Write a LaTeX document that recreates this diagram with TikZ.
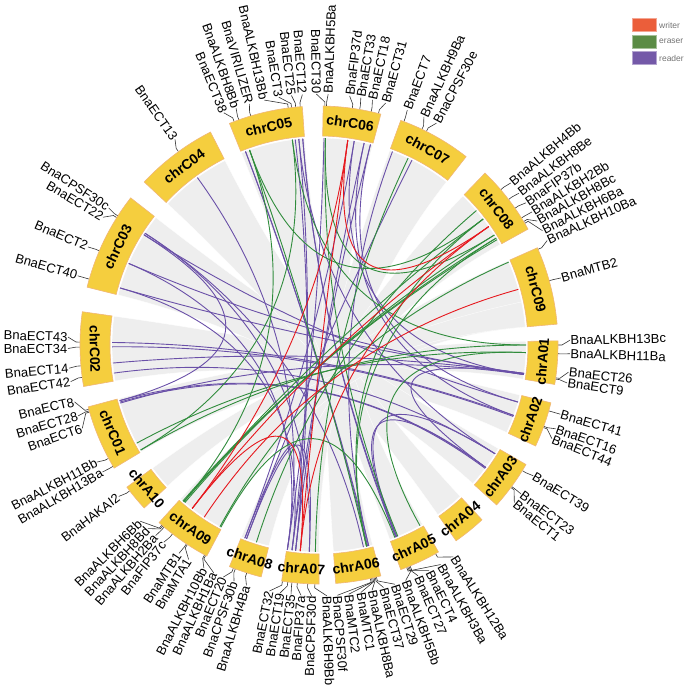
\documentclass[tikz,border=0pt]{standalone}
\usepackage{fontspec}
\setmainfont{Liberation Sans}
\usetikzlibrary{calc}

\definecolor{bandgold}{RGB}{245,206,62}
\definecolor{bandedge}{RGB}{240,182,120}
\definecolor{ribbongray}{RGB}{238,238,238}
\definecolor{writerred}{RGB}{230,24,30}
\definecolor{erasergreen}{RGB}{48,140,60}
\definecolor{readerpurple}{RGB}{106,80,168}
\definecolor{legwriter}{RGB}{235,94,58}
\definecolor{legeraser}{RGB}{91,140,69}
\definecolor{legreader}{RGB}{116,89,168}

\tikzset{
  band/.style={fill=bandgold, draw=bandedge, line width=0.6pt},
  chrname/.style={font=\fontsize{14}{16}\selectfont\bfseries, inner sep=0pt},
  ribbon/.style={fill=ribbongray, draw=white, line width=0.3pt},
  genelabel/.style={font=\fontsize{13}{15}\selectfont, inner sep=0.5pt},
  tick/.style={draw=black!80, line width=0.6pt},
  writer/.style={draw=writerred, line width=0.9pt},
  eraser/.style={draw=erasergreen, line width=0.9pt},
  reader/.style={draw=readerpurple, line width=0.9pt},
  legbox/.style={minimum width=24pt, minimum height=13pt, inner sep=0pt, line width=0.5pt},
  legtext/.style={font=\fontsize{8.5}{10}\selectfont, text=black!55, anchor=west, inner sep=1pt}
}

% ribbon between two chromosome arcs
\newcommand{\synteny}[4]{%
  \path[ribbon] (#1:207) arc[start angle=#1, end angle=#2, radius=207]
    .. controls (#2:69) and (#3:69) .. (#3:207)
    arc[start angle=#3, end angle=#4, radius=207]
    .. controls (#4:69) and (#1:69) .. (#1:207) -- cycle;}

% link between two genes, bent through the centre
\newcommand{\lnk}[3]{%
  \draw[#1] (#2) .. controls ($(#2)!.667!(O)$) and ($(#3)!.667!(O)$) .. (#3);}

\begin{document}
\begin{tikzpicture}[x=1pt, y=1pt]
  \useasboundingbox (-319,-345) rectangle (366,345);
  \coordinate (O) at (0,0);

  % synteny ribbons
  \synteny{1}{-9.5}{-149}{-165}
  \synteny{-14}{-25}{-170}{-188}
  \synteny{-30}{-42}{166}{142}
  \synteny{-47}{-55}{137}{117}
  \synteny{-60}{-70}{112}{94}
  \synteny{-75}{-86}{89}{75}
  \synteny{-90}{-99}{70}{52}
  \synteny{-104}{-112}{46}{29}
  \synteny{-118}{-132}{24}{5}
  \synteny{-137}{-143.5}{12}{5}

  % genes, labels on the left
  \foreach \gn/\g/\l in {ECT12/94.5/93.8, ECT25/95.6/96.3, ECT3/96.6/99.2,
      ALKBH13Bb/97.4/102.6, VIRILIZER/106.6/106.1, ALKBH8Bb/109.6/109.3,
      ECT38/110.8/112.3, ECT30/88.6/90.6, ECT13/126/125,
      CPSF30c/147.3/146.9, ECT22/147.8/149.4, ECT2/156.8/157, ECT40/164/164,
      ECT43/179.3/178.2, ECT34/180.5/180.8, ECT14/185/185.3, ECT42/187.8/188.4,
      ECT8/195.6/193.1, ECT28/196/196.4, ECT6/196.3/199.4,
      ALKBH11Bb/208.3/207.8, ALKBH13Ba/210.5/210.4, HAKAI2/217.6/217.1,
      ALKBH6Bb/228.9/224.6, ALKBH8Bd/229.2/227.0, ALKBH2Ba/229.6/229.4,
      FIP37c/232.2/231.8, MTB1/236.3/236.1, MTA1/236.6/238.7,
      ALKBH10Bb/241.4/242.7, ALKBH1Ba/241.7/245.2,
      ECT20/249/247.6, CPSF30b/249.5/250.2, ALKBH4Ba/252.4/253.2,
      ECT32/261.2/258.6, ECT19/262.5/261.1, ECT35/263.5/263.6,
      FIP37a/264.8/265.9, CPSF30d/267.3/268.3}{
    \coordinate (\gn) at (\g:207);
    \node[genelabel, anchor=east, rotate=\l-180] (l-\gn) at (\l:251) {Bna\gn};
    \draw[tick] (\g:239) -- (\g:243) -- (l-\gn.east);
  }

  % genes, labels on the right
  \foreach \gn/\g/\l in {ALKBH9Bb/-91/-88.2, CPSF30f/-77.6/-85.8, MTC2/-77.3/-83.2,
      MTC1/-77/-80.4, ALKBH8Ba/-76.7/-77.8, ECT37/-76.4/-75.1, ECT29/-76.1/-72.4,
      ALKBH5Bb/-67.6/-69.8, ECT27/-67.9/-66.8, ECT4/-68.2/-64.0,
      ALKBH3Ba/-68.5/-61.0, ALKBH12Ba/-60.8/-57.6,
      ECT1/-36.6/-38.9, ECT23/-36.3/-36.4, ECT39/-31.7/-31.4,
      ECT44/-20.2/-21.9, ECT16/-19.9/-19.5, ECT41/-16/-16,
      ECT9/-8.2/-8.7, ECT26/-7.9/-6.2, ALKBH11Ba/-2.1/-2, ALKBH13Bc/0/1.1,
      MTB2/15.6/15.5, ALKBH10Ba/23.6/24.6, ALKBH6Ba/30.6/27.1,
      ALKBH8Bc/31.1/29.6, ALKBH2Bb/32.1/32.0, FIP37b/34.9/34.5,
      ALKBH8Be/37.5/37.2, ALKBH4Bb/40.5/40.2,
      CPSF30e/63.3/62.1, ALKBH9Ba/64.5/65.3, ECT7/69.2/69.4,
      ECT31/75.6/74.6, ECT18/77.4/77.7, ECT33/80.2/80.4, FIP37d/82/83,
      ALKBH5Ba/88.2/87.9}{
    \coordinate (\gn) at (\g:207);
    \node[genelabel, anchor=west, rotate=\l] (l-\gn) at (\l:251) {Bna\gn};
    \draw[tick] (\g:239) -- (\g:243) -- (l-\gn.west);
  }

  % reader links
  \foreach \a/\b in {ECT38/ECT37, ECT38/ECT29, ECT3/ECT35, ECT25/ECT19,
      ECT12/ECT4, ECT12/ECT27, ECT30/ECT32, ECT33/ECT20, ECT18/ECT35,
      ECT31/ECT19, ECT7/ECT29, CPSF30e/CPSF30b, CPSF30c/CPSF30d,
      CPSF30c/CPSF30f, CPSF30b/CPSF30d, ECT20/ECT35, ECT13/ECT32,
      ECT2/ECT9, ECT40/ECT26, ECT22/ECT41, ECT43/ECT16, ECT34/ECT44,
      ECT14/ECT26, ECT42/ECT39, ECT8/ECT23, ECT28/ECT1, ECT6/ECT9,
      ECT22/ECT8, ECT27/ECT39, ECT4/ECT23, ECT26/ECT23, ECT2/ECT32,
      ECT40/ECT19, ECT41/ECT31, ECT16/ECT18, ECT9/ECT33, ECT39/ECT25}{
    \lnk{reader}{\a}{\b}
  }

  % eraser links
  \foreach \a/\b in {ALKBH13Bb/ALKBH13Bc, ALKBH13Bb/ALKBH13Ba,
      ALKBH13Bc/ALKBH13Ba, ALKBH11Ba/ALKBH11Bb, ALKBH8Bb/ALKBH8Be,
      ALKBH8Bb/ALKBH8Bd, ALKBH8Bb/ALKBH8Ba, ALKBH8Be/ALKBH8Bd,
      ALKBH8Bc/ALKBH8Bd, ALKBH8Be/ALKBH8Ba, ALKBH8Bc/ALKBH8Ba,
      ALKBH5Ba/ALKBH5Bb, ALKBH9Ba/ALKBH9Bb, ALKBH4Bb/ALKBH4Ba,
      ALKBH2Bb/ALKBH2Ba, ALKBH6Ba/ALKBH6Bb, ALKBH10Ba/ALKBH10Bb,
      ALKBH12Ba/ALKBH11Ba, ALKBH1Ba/ALKBH3Ba, ALKBH2Bb/ALKBH5Ba}{
    \lnk{eraser}{\a}{\b}
  }

  % writer links
  \foreach \a/\b in {FIP37d/FIP37b, FIP37d/FIP37a, FIP37d/FIP37c,
      FIP37b/FIP37a, FIP37b/FIP37c, FIP37a/FIP37c, MTB2/MTB1}{
    \lnk{writer}{\a}{\b}
  }

  % chromosomes
  \foreach \chr/\s/\e in {chrC05/112/94, chrC06/89/75, chrC07/70/52,
      chrC08/46/29, chrC09/24/5, chrA01/1/-9.5, chrA02/-14/-25,
      chrA03/-30/-42, chrA04/-47/-55, chrA05/-60/-70, chrA06/-75/-86,
      chrA07/-90/-99, chrA08/-104/-112, chrA09/-118/-132,
      chrA10/-137/-143.5, chrC01/-149/-165, chrC02/-170/-188,
      chrC03/166/142, chrC04/137/117}{
    \pgfmathsetmacro\chrmid{(\s+\e)/2}
    \pgfmathsetmacro\chrrot{\chrmid>0 ? \chrmid-90 : \chrmid+90}
    \draw[band] (\s:209) arc[start angle=\s, end angle=\e, radius=209]
      -- (\e:239) arc[start angle=\e, end angle=\s, radius=239] -- cycle;
    \node[chrname, rotate=\chrrot] (\chr) at (\chrmid:224) {\chr};
  }

  % legend
  \node[legbox, fill=legwriter, draw=legwriter!55!white] (leg-writer) at (325,320) {};
  \node[legbox, fill=legeraser, draw=legeraser!55!white] (leg-eraser) at (325,303.5) {};
  \node[legbox, fill=legreader, draw=legreader!55!white] (leg-reader) at (325,287) {};
  \node[legtext] (t-writer) at (339,320) {writer};
  \node[legtext] (t-eraser) at (339,303.5) {eraser};
  \node[legtext] (t-reader) at (339,287) {reader};
\end{tikzpicture}
\end{document}
